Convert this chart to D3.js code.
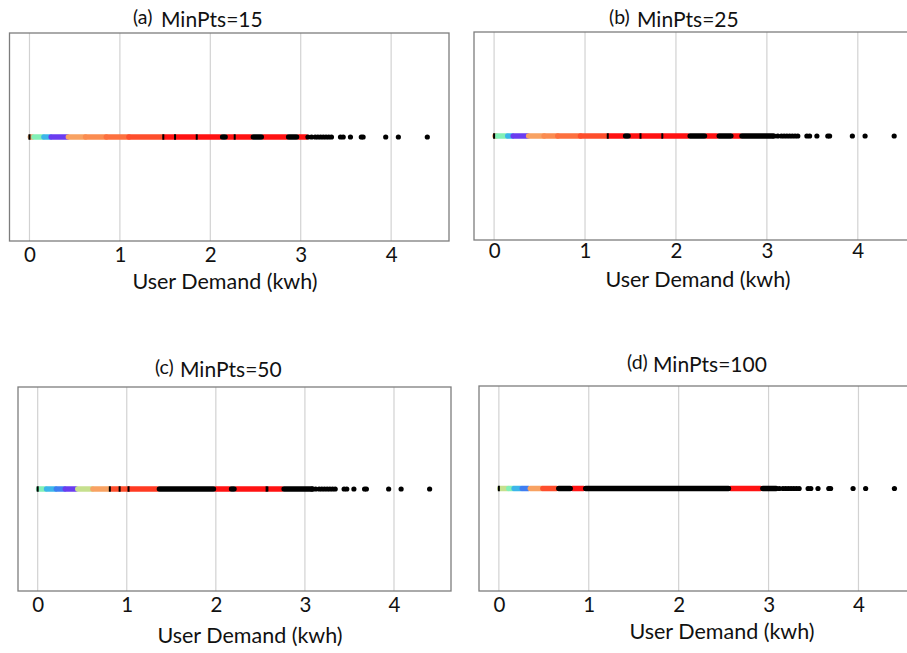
<!DOCTYPE html>
<html>
<head>
<meta charset="utf-8">
<script src="https://cdn.jsdelivr.net/npm/d3@7"></script>
<style>
  html, body { margin: 0; padding: 0; background: #fff; overflow: hidden; }
  svg { display: block; }
  text { font-family: Lato, "Open Sans", sans-serif; fill: #111; }
</style>
</head>
<body>
<svg id="chart" width="907" height="653"></svg>
<script>
// ---------------- data ----------------
const tickValues = [0, 1, 2, 3, 4];
const panelLetters = ["(a)", "(b)", "(c)", "(d)"];
const minPtsValues = [15, 25, 50, 100];
const xLabel = "User Demand (kwh)";
const xDomain = [-0.221, 4.64];

// sparse noise points (same demand values in every panel)
const outlierValues = [3.08, 3.12, 3.16, 3.19, 3.22, 3.25, 3.28, 3.31, 3.34,
                       3.44, 3.47, 3.55, 3.67, 3.69, 3.94, 4.08, 4.40];

// dense runs of points: [from, to, cluster]
const runsA = [
  [0.00, 0.01, "noise"], [0.01, 0.03, "tan"], [0.05, 0.15, "aqua"],
  [0.16, 0.23, "cyan"], [0.24, 0.42, "violet"], [0.43, 0.62, "orange"],
  [0.62, 0.85, "orange2"], [0.85, 1.10, "orange3"], [1.10, 1.48, "redorange"],
  [1.48, 1.49, "noise"], [1.50, 1.84, "red"], [1.61, 1.61, "noise"],
  [1.85, 1.86, "noise"], [1.87, 2.11, "red"], [2.12, 2.18, "noise"],
  [2.19, 2.26, "red"], [2.27, 2.28, "noise"], [2.29, 2.45, "red"],
  [2.46, 2.58, "noise"], [2.59, 2.84, "red"], [2.85, 2.97, "noise"],
  [2.98, 3.06, "red"]
];
const runsB = [
  [0.00, 0.01, "noise"], [0.01, 0.02, "tan"], [0.03, 0.14, "aqua"],
  [0.15, 0.20, "cyan"], [0.21, 0.37, "violet"], [0.38, 0.55, "orange"],
  [0.55, 0.70, "orange2"], [0.70, 0.95, "orange3"], [0.95, 1.25, "redorange"],
  [1.25, 1.26, "noise"], [1.27, 1.42, "red"], [1.43, 1.49, "noise"],
  [1.50, 1.84, "red"], [1.61, 1.61, "noise"], [1.85, 1.86, "noise"],
  [1.87, 2.13, "red"], [2.14, 2.33, "noise"], [2.34, 2.45, "red"],
  [2.46, 2.62, "noise"], [2.63, 2.70, "red"], [2.71, 3.08, "noise"]
];
const runsC = [
  [0.00, 0.01, "noise"], [0.01, 0.09, "aqua"], [0.10, 0.20, "cyan"],
  [0.21, 0.30, "blue"], [0.31, 0.43, "violet"], [0.45, 0.61, "khaki"],
  [0.62, 0.80, "orange"], [0.81, 0.82, "noise"], [0.83, 1.02, "redorange"],
  [0.92, 0.92, "noise"], [1.02, 1.02, "noise"], [1.03, 1.34, "red2"],
  [1.35, 1.99, "noise"], [2.00, 2.15, "red"], [2.16, 2.22, "noise"],
  [2.23, 2.56, "red"], [2.57, 2.59, "noise"], [2.60, 2.74, "red"],
  [2.75, 3.10, "noise"]
];
const runsD = [
  [0.00, 0.01, "noise"], [0.01, 0.10, "khaki"], [0.11, 0.16, "aqua"],
  [0.17, 0.25, "cyan"], [0.26, 0.33, "blue"], [0.35, 0.48, "orange"],
  [0.49, 0.64, "redorange"], [0.65, 0.81, "noise"], [0.82, 0.94, "red"],
  [0.95, 2.57, "noise"], [2.58, 2.91, "red"], [2.92, 3.10, "noise"]
];
const panelRuns = [runsA, runsB, runsC, runsD];

// ---------------- styles / layout ----------------
const clusterColor = d3.scaleOrdinal()
  .domain(["noise", "tan", "aqua", "cyan", "blue", "violet", "khaki",
           "orange", "orange2", "orange3", "redorange", "red2", "red"])
  .range(["#000000", "#e8a468", "#82f0b6", "#3cb6ea", "#3f7ef2", "#6a3cf0", "#c6e08e",
          "#f8a262", "#fb8c50", "#fd703e", "#fe4e2c", "#ff3a22", "#ff1212"]);

const layout = [
  { left: 9.5,  top: 33,  width: 439.5, height: 208, letterX: 133, titleX: 161, titleY: 27,  tickY: 262, labelX: 225, labelY: 289 },
  { left: 474,  top: 32,  width: 442,   height: 208, letterX: 609, titleX: 637, titleY: 27,  tickY: 258, labelX: 698, labelY: 287 },
  { left: 18,   top: 387, width: 433,   height: 204, letterX: 155, titleX: 180, titleY: 377, tickY: 612, labelX: 250, labelY: 643 },
  { left: 479,  top: 386, width: 437,   height: 205, letterX: 627, titleX: 653, titleY: 372, tickY: 612, labelX: 722, labelY: 639 }
];

const svg = d3.select("#chart");

layout.forEach((L, i) => {
  const g = svg.append("g");
  const x = d3.scaleLinear().domain(xDomain).range([L.left, L.left + L.width]);
  const y = d3.scaleLinear().domain([-1, 1]).range([L.top + L.height, L.top]);

  // grid
  g.selectAll("line.grid").data(tickValues).join("line")
    .attr("class", "grid")
    .attr("x1", d => x(d)).attr("x2", d => x(d))
    .attr("y1", L.top).attr("y2", L.top + L.height)
    .attr("stroke", "#d2d2d2").attr("stroke-width", 1.2);

  // frame
  g.append("rect")
    .attr("x", L.left).attr("y", L.top)
    .attr("width", L.width).attr("height", L.height)
    .attr("fill", "none").attr("stroke", "#7d7d7d").attr("stroke-width", 1.3);

  // axis tick labels via d3 axis
  const axis = d3.axisBottom(x).tickValues(tickValues).tickSize(0).tickPadding(0)
    .tickFormat(d3.format("d"));
  const ag = g.append("g").attr("transform", `translate(0,${L.tickY})`).call(axis);
  ag.select(".domain").remove();
  ag.selectAll("text")
    .attr("dy", 0).attr("y", 0)
    .style("font-family", "Lato, 'Open Sans', sans-serif")
    .style("font-size", "20.5px").attr("fill", "#111");

  // dense runs: colored first (round), then noise on top
  const runs = panelRuns[i];
  const colored = runs.filter(r => r[2] !== "noise");
  const noise = runs.filter(r => r[2] === "noise");
  g.selectAll("line.run").data(colored).join("line")
    .attr("class", "run")
    .attr("x1", d => x(d[0])).attr("x2", d => x(d[1]))
    .attr("y1", y(0)).attr("y2", y(0))
    .attr("stroke", d => clusterColor(d[2]))
    .attr("stroke-width", 5.5)
    .attr("stroke-linecap", "round");
  const isLong = d => (d[1] - d[0]) > 0.04;
  g.selectAll("line.noise").data(noise).join("line")
    .attr("class", "noise")
    .attr("x1", d => isLong(d) ? x(d[0]) + 1.5 : x(d[0]) - 1)
    .attr("x2", d => isLong(d) ? x(d[1]) - 1.5 : Math.max(x(d[1]), x(d[0]) + 1))
    .attr("y1", y(0)).attr("y2", y(0))
    .attr("stroke", clusterColor("noise"))
    .attr("stroke-width", 5.5)
    .attr("stroke-linecap", d => isLong(d) ? "round" : "butt");

  // sparse outliers
  g.selectAll("circle.out").data(outlierValues).join("circle")
    .attr("class", "out")
    .attr("cx", d => x(d)).attr("cy", y(0))
    .attr("r", 2.6).attr("fill", "#000");

  // title
  g.append("text").attr("x", L.letterX).attr("y", L.titleY - 3)
    .style("font-size", "19.5px").text(panelLetters[i]);
  g.append("text").attr("x", L.titleX).attr("y", L.titleY)
    .style("font-size", "21px").text("MinPts=" + minPtsValues[i]);

  // x label
  g.append("text").attr("x", L.labelX).attr("y", L.labelY)
    .attr("text-anchor", "middle")
    .style("font-size", "21.5px").text(xLabel);
});
</script>
</body>
</html>
